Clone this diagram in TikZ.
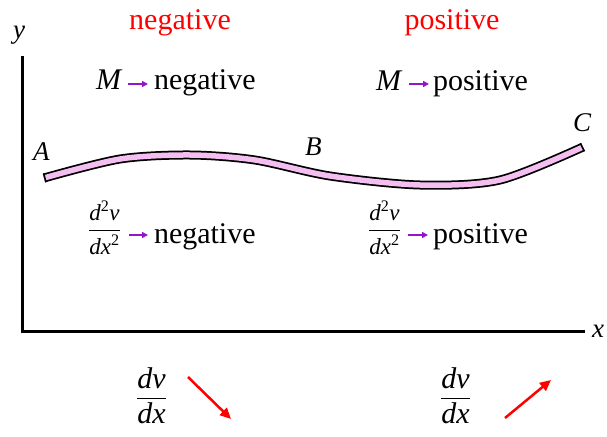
\documentclass[tikz,border=0pt]{standalone}
\usepackage{amsmath}
\usepackage{fontspec}
\setmainfont{Liberation Serif}
\usetikzlibrary{arrows.meta}
\definecolor{beampink}{RGB}{245,190,240}
\definecolor{arrpurple}{RGB}{150,20,200}
\begin{document}
\begin{tikzpicture}[x=1pt,y=-1pt,
  every node/.style={inner sep=0pt, outer sep=0pt},
  big/.style={font=\rmfamily\fontsize{30}{36}\selectfont},
  redlbl/.style={big, text=red},
  lbl/.style={font=\rmfamily\fontsize{27}{32}\selectfont\itshape},
  smallfrac/.style={font=\rmfamily\fontsize{23}{27}\selectfont},
  axisline/.style={line width=3pt, line join=miter},
  purarrow/.style={-{Triangle[length=6pt,width=6pt]}, draw=arrpurple, fill=arrpurple, line width=2pt},
  redarrow/.style={-{Triangle[length=11pt,width=10pt]}, draw=red, fill=red, line width=2.5pt}]
\useasboundingbox (0,0) rectangle (607,436);

% axes
\draw[axisline] (22,56) -- (22,331) -- (585,331);
\node[lbl, anchor=base west] (ylab) at (13,39) {y};
\node[lbl, anchor=base west] (xlab) at (592,337) {x};

% beam
\def\beampts{(44,178) (120,159) (190,155) (255,160) (330,176) (420,185) (500,180) (583,147)}
\draw[line width=9pt, black] plot[smooth] coordinates {\beampts};
\draw[line width=5.5pt, beampink] plot[smooth] coordinates {\beampts};
\draw[line width=1.6pt] (46.0,182.2) -- (43.6,173.4);
\draw[line width=1.6pt] (584.3,151.3) -- (580.3,143.3);
\node[lbl, anchor=base west] (alab) at (33,160) {A};
\node[lbl, anchor=base west] (blab) at (305,155) {B};
\node[lbl, anchor=base west] (clab) at (573,131) {C};

% top labels
\node[redlbl, anchor=base] (tneg) at (180,30) {negative};
\node[redlbl, anchor=base] (tpos) at (452,30) {positive};

% M rows
\node[big, anchor=base west] (m1) at (96,89) {\textit{M}};
\node[big, anchor=base west] (n1) at (154,89) {negative};
\node[big, anchor=base west] (m2) at (376,90) {\textit{M}};
\node[big, anchor=base west] (p1) at (433,90) {positive};
\coordinate (a1s) at (128,84); \coordinate (a1e) at (148,84);
\coordinate (a2s) at (409,84); \coordinate (a2e) at (429,84);
\draw[purarrow] (a1s) -- (a1e);
\draw[purarrow] (a2s) -- (a2e);

% second derivative rows
\node[smallfrac, anchor=base] (f1) at (104.5,237) {$\dfrac{\text{\textit{d}\textsuperscript{2}\textit{v}}}{\text{\textit{dx}\textsuperscript{2}}}$};
\node[big, anchor=base west] (n2) at (154,243) {negative};
\node[smallfrac, anchor=base] (f2) at (384.5,237) {$\dfrac{\text{\textit{d}\textsuperscript{2}\textit{v}}}{\text{\textit{dx}\textsuperscript{2}}}$};
\node[big, anchor=base west] (p2) at (433,243) {positive};
\coordinate (a3s) at (129,235); \coordinate (a3e) at (148,235);
\coordinate (a4s) at (408,235); \coordinate (a4e) at (428,235);
\draw[purarrow] (a3s) -- (a3e);
\draw[purarrow] (a4s) -- (a4e);

% slopes
\node[big, anchor=base] (g1) at (151.5,405) {$\dfrac{\textit{dv}}{\textit{dx}}$};
\node[big, anchor=base] (g2) at (455.5,405) {$\dfrac{\textit{dv}}{\textit{dx}}$};
\coordinate (r1s) at (188,377); \coordinate (r1e) at (231,419);
\coordinate (r2s) at (505,418); \coordinate (r2e) at (551,380);
\draw[redarrow] (r1s) -- (r1e);
\draw[redarrow] (r2s) -- (r2e);
\end{tikzpicture}
\end{document}
